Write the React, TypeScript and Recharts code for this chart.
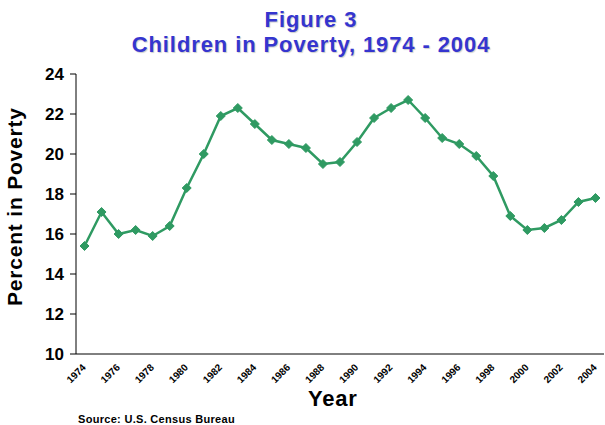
import { LineChart, Line, XAxis, YAxis } from "recharts";

const years = [
  "1974", "1975", "1976", "1977", "1978", "1979", "1980", "1981", "1982", "1983",
  "1984", "1985", "1986", "1987", "1988", "1989", "1990", "1991", "1992", "1993",
  "1994", "1995", "1996", "1997", "1998", "1999", "2000", "2001", "2002", "2003", "2004",
];

const poverty = [
  15.4, 17.1, 16.0, 16.2, 15.9, 16.4, 18.3, 20.0, 21.9, 22.3,
  21.5, 20.7, 20.5, 20.3, 19.5, 19.6, 20.6, 21.8, 22.3, 22.7,
  21.8, 20.8, 20.5, 19.9, 18.9, 16.9, 16.2, 16.3, 16.7, 17.6, 17.8,
];

const yTicks = [10, 12, 14, 16, 18, 20, 22, 24];

// category boundaries for the between-category tick marks
const boundaries = Array.from({ length: years.length + 1 }, (_, i) => i);

const data = years.map((y, i) => ({ year: y, pct: poverty[i] }));

const green = "#2f9a62";
const blue = "#3535cf";
const font = "Arial, 'Liberation Sans', sans-serif";

function Diamond(props: any) {
  const { cx, cy } = props;
  if (cx == null || cy == null) return null;
  const r = 4.5;
  return (
    <polygon
      points={`${cx},${cy - r} ${cx + r},${cy} ${cx},${cy + r} ${cx - r},${cy}`}
      fill={green}
      stroke={green}
    />
  );
}

export default function App() {
  return (
    <div
      style={{
        position: "absolute",
        left: 0,
        top: 0,
        width: 605,
        height: 425,
        background: "#fff",
        fontFamily: font,
      }}
    >
      <div
        style={{
          position: "absolute",
          left: 0,
          width: 622,
          top: 7,
          textAlign: "center",
          color: blue,
          fontWeight: "bold",
          fontSize: 22,
          letterSpacing: 0.9,
          lineHeight: "25px",
          textShadow: "1px 1px 1px rgba(0,0,0,0.2)",
        }}
      >
        Figure 3
        <br />
        Children in Poverty, 1974 - 2004
      </div>

      <LineChart
        width={605}
        height={425}
        data={data}
        margin={{ top: 74, right: 1, bottom: 31, left: 0 }}
      >
        <XAxis
          dataKey="year"
          scale="band"
          height={40}
          interval={0}
          tickLine={false}
          tickMargin={3}
          axisLine={{ stroke: "#000" }}
          tickFormatter={(v: string, i: number) => (i % 2 === 0 ? v : "")}
          tick={{
            angle: -45,
            textAnchor: "end",
            fill: "#000",
            fontSize: 10,
            fontWeight: "bold",
            fontFamily: font,
            dx: -3,
          }}
        />
        <XAxis
          xAxisId="bounds"
          type="number"
          domain={[0, years.length]}
          ticks={boundaries}
          interval={0}
          height={0}
          orientation="bottom"
          axisLine={false}
          tickSize={4}
          tickLine={{ stroke: "#000" }}
          tick={false}
        />
        <YAxis
          width={76}
          domain={[10, 24]}
          ticks={yTicks}
          interval={0}
          tickSize={6}
          tickMargin={6}
          axisLine={{ stroke: "#000" }}
          tickLine={{ stroke: "#000" }}
          tick={{
            fill: "#000",
            fontSize: 17,
            fontWeight: "bold",
            fontFamily: font,
          }}
          label={{
            value: "Percent in Poverty",
            angle: -90,
            position: "insideLeft",
            dx: 10,
            dy: 92,
            fill: "#000",
            fontSize: 21,
            fontWeight: "bold",
            fontFamily: font,
            letterSpacing: 0.8,
          }}
        />
        <Line
          type="linear"
          dataKey="pct"
          stroke={green}
          strokeWidth={2.5}
          dot={<Diamond />}
          activeDot={false}
          isAnimationActive={false}
        />
      </LineChart>

      <div
        style={{
          position: "absolute",
          left: 308,
          top: 386,
          color: "#000",
          fontWeight: "bold",
          fontSize: 22,
          letterSpacing: 0.8,
        }}
      >
        Year
      </div>
      <div
        style={{
          position: "absolute",
          left: 78,
          top: 413,
          color: "#000",
          fontWeight: "bold",
          fontSize: 11,
          letterSpacing: 0.3,
        }}
      >
        Source: U.S. Census Bureau
      </div>
    </div>
  );
}
